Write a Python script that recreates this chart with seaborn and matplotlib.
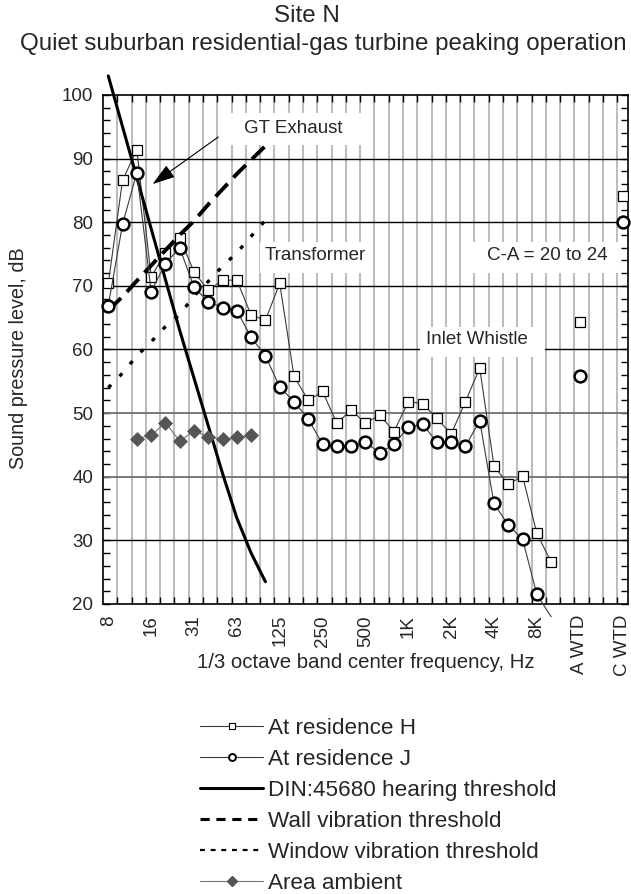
import numpy as np
import pandas as pd
import matplotlib
matplotlib.use("Agg")
import matplotlib.pyplot as plt
import seaborn as sns
from matplotlib.lines import Line2D
from matplotlib.patches import Rectangle
from matplotlib.ticker import FixedLocator, MultipleLocator

# ---------------- data ----------------
bands = ["8", "10", "12.5", "16", "20", "25", "31.5", "40", "50", "63", "80", "100",
         "125", "160", "200", "250", "315", "400", "500", "630", "800", "1K", "1.25K",
         "1.6K", "2K", "2.5K", "3.15K", "4K", "5K", "6.3K", "8K", "10K"]
categories = bands + ["", "A WTD", "", "", "C WTD"]
tick_labels = ["8", "16", "31", "63", "125", "250", "500", "1K", "2K", "4K", "8K",
               "A WTD", "C WTD"]

res_h = [70.4, 86.6, 91.4, 71.4, 75.2, 77.6, 72.2, 69.3, 70.9, 70.9, 65.4, 64.6,
         70.4, 55.8, 52.0, 53.4, 48.4, 50.5, 48.4, 49.7, 47.1, 51.8, 51.5, 49.2,
         46.7, 51.8, 57.1, 41.7, 38.8, 40.1, 31.1, 26.6]
res_j = [66.9, 79.7, 87.8, 69.1, 73.5, 76.0, 69.8, 67.5, 66.6, 66.1, 61.9, 59.0,
         54.1, 51.8, 49.1, 45.1, 44.8, 44.8, 45.4, 43.8, 45.1, 47.8, 48.3, 45.4,
         45.4, 44.8, 48.8, 35.8, 32.4, 30.2, 21.5, 18.0]
wtd_labels = ["A WTD", "C WTD"]
res_h_wtd = [64.3, 84.2]
res_j_wtd = [55.8, 80.1]

ambient_bands = ["12.5", "16", "20", "25", "31.5", "40", "50", "63", "80"]
ambient = [46.0, 46.5, 48.5, 45.6, 47.2, 46.3, 45.9, 46.2, 46.5]

thr_bands = ["8", "10", "12.5", "16", "20", "25", "31.5", "40", "50", "63", "80", "100"]
din_threshold = [103.0, 95.0, 87.0, 79.0, 71.0, 63.0, 55.5, 48.0, 40.5, 33.5, 28.0, 23.5]
wall_vib = [66.2, 68.3, 70.8, 73.2, 75.6, 78.0, 80.2, 82.8, 85.2, 87.6, 89.8, 92.0]
window_vib = [54.0, 56.3, 59.0, 61.2, 63.6, 65.5, 68.4, 70.7, 73.1, 75.2, 77.8, 80.3]

legend_labels = ["At residence H", "At residence J", "DIN:45680 hearing threshold",
                 "Wall vibration threshold", "Window vibration threshold", "Area ambient"]

pos = {c: i for i, c in enumerate(categories) if c}

# ---------------- styling ----------------
sns.set_theme(style="white")
FONT = ["Liberation Sans", "DejaVu Sans"]
plt.rcParams["font.family"] = FONT
FS = 13.5

W, H = 631, 894
fig = plt.figure(figsize=(W / 100, H / 100), dpi=100)
ax = fig.add_axes([103 / W, 1 - 604 / H, (628 - 103) / W, (604 - 95) / H])

def xs(cats):
    return [pos[c] for c in cats]

df_h = pd.DataFrame({"x": xs(bands), "y": res_h})
df_j = pd.DataFrame({"x": xs(bands), "y": res_j})
df_amb = pd.DataFrame({"x": xs(ambient_bands), "y": ambient})
df_thr = pd.DataFrame({"x": xs(thr_bands), "din": din_threshold,
                       "wall": wall_vib, "window": window_vib})

thin = "#3a3a3a"
# Residence H
sns.lineplot(data=df_h, x="x", y="y", ax=ax, color=thin, lw=0.8, marker="s",
             markersize=6.5, markerfacecolor="white", markeredgecolor="black",
             markeredgewidth=0.9, legend=False, errorbar=None, zorder=3)
# Residence J (line continues below axis at 10K)
sns.lineplot(data=df_j, x="x", y="y", ax=ax, color=thin, lw=0.8, marker="o",
             markersize=8.5, markerfacecolor="white", markeredgecolor="black",
             markeredgewidth=1.8, legend=False, errorbar=None, clip_on=False,
             markevery=[i for i, v in enumerate(res_j) if v >= 20], zorder=4)
# weighted levels
sns.lineplot(x=xs(wtd_labels), y=res_h_wtd, ax=ax, lw=0, marker="s", markersize=6.5,
             markerfacecolor="white", markeredgecolor="black", markeredgewidth=0.9,
             legend=False, errorbar=None, zorder=3)
sns.lineplot(x=xs(wtd_labels), y=res_j_wtd, ax=ax, lw=0, marker="o", markersize=8.5,
             markerfacecolor="white", markeredgecolor="black", markeredgewidth=1.8,
             legend=False, errorbar=None, zorder=4, clip_on=False)
# thresholds
sns.lineplot(data=df_thr, x="x", y="din", ax=ax, color="black", lw=2.2,
             legend=False, errorbar=None, clip_on=False, zorder=3)
sns.lineplot(data=df_thr, x="x", y="wall", ax=ax, color="black", lw=2.8,
             linestyle=(0, (4.5, 2.2)), legend=False, errorbar=None, zorder=3)
sns.lineplot(data=df_thr, x="x", y="window", ax=ax, color="black", lw=2.4,
             linestyle=(0, (1.2, 3.6)), legend=False, errorbar=None, zorder=3)
# ambient
sns.lineplot(data=df_amb, x="x", y="y", ax=ax, color="#777777", lw=0.8, marker="D",
             markersize=7, markerfacecolor="#555555", markeredgecolor="#555555",
             markeredgewidth=0.5, legend=False, errorbar=None, zorder=3)

# ---------------- axes ----------------
ax.set_xlim(-0.37, 36.38)
ax.set_ylim(20, 100)
ax.set_xlabel("")
ax.set_ylabel("")
ax.set_xticks(range(0, 37, 3))
ax.set_xticklabels(tick_labels, rotation=90, fontsize=FS)
grid_x = [k - 0.37 for k in range(1, 37)]
ax.xaxis.set_minor_locator(FixedLocator(grid_x))
ax.tick_params(axis="x", which="minor", direction="in", length=5, width=1,
               color="black", top=True, bottom=True)
ax.tick_params(axis="x", which="major", length=0, pad=8)
ax.set_axisbelow(True)
ax.grid(which="minor", axis="x", color="#bdbdbd", lw=1.5)
ax.grid(which="major", axis="x", visible=False)

ax.set_yticks(range(20, 101, 10))
ax.set_yticklabels([str(v) for v in range(20, 101, 10)], fontsize=FS)
ax.yaxis.set_minor_locator(MultipleLocator(2))
ax.tick_params(axis="y", which="both", direction="in", length=5, width=1,
               color="black", left=True, right=True, pad=7)
for v in range(30, 100, 10):
    ax.axhline(v, color="#707070" if v in (40, 50) else "black",
               lw=1.3 if v in (40, 50) else 1.0, zorder=0.6)
for s in ax.spines.values():
    s.set_color("black")
    s.set_linewidth(1.2)
    s.set_visible(True)

# white label boxes
for (x0, x1, y0, y1) in [(7.69, 18.53, 92.1, 97.2), (10.6, 18.5, 72.0, 76.9),
                         (25.3, 35.7, 72.0, 76.9), (21.8, 30.6, 58.8, 63.5)]:
    ax.add_patch(Rectangle((x0, y0), x1 - x0, y1 - y0, facecolor="white",
                           edgecolor="none", zorder=1))
ax.text(12.97, 94.8, "GT Exhaust", ha="center", va="center", fontsize=FS)
ax.text(14.5, 74.8, "Transformer", ha="center", va="center", fontsize=FS)
ax.text(30.7, 74.8, "C-A = 20 to 24", ha="center", va="center", fontsize=FS)
ax.text(25.8, 61.5, "Inlet Whistle", ha="center", va="center", fontsize=FS)
ax.annotate("", xy=(3.1, 86.0), xytext=(7.7, 93.4),
            arrowprops=dict(arrowstyle="-|>,head_length=1.4,head_width=0.45",
                            mutation_scale=10, lw=0.8, color="black",
                            shrinkA=0, shrinkB=0), zorder=5)

# ---------------- texts ----------------
fig.text(307 / W, 1 - 16 / H, "Site N", ha="center", va="center", fontsize=17.4)
fig.text(323 / W, 1 - 44 / H, "Quiet suburban residential-gas turbine peaking operation",
         ha="center", va="center", fontsize=17.4)
fig.text(366 / W, 1 - 663 / H, "1/3 octave band center frequency, Hz",
         ha="center", va="center", fontsize=14.7)
fig.text(19 / W, 1 - 358 / H, "Sound pressure level, dB", ha="center", va="center",
         rotation=90, fontsize=14.2)

# ---------------- legend ----------------
handles = [
    Line2D([], [], color=thin, lw=0.8, marker="s", markersize=4.5, mfc="white",
           mec="black", mew=0.8),
    Line2D([], [], color=thin, lw=0.8, marker="o", markersize=5, mfc="white",
           mec="black", mew=1.4),
    Line2D([], [], color="black", lw=2.2),
    Line2D([], [], color="black", lw=2.2, linestyle=(0, (3.0, 2.2))),
    Line2D([], [], color="black", lw=1.6, linestyle=(0, (2.2, 2.6))),
    Line2D([], [], color="#777777", lw=0.8, marker="D", markersize=5,
           mfc="#555555", mec="#555555"),
]
LFS = 16.2
fig.legend(handles, legend_labels, loc="upper left",
           bbox_to_anchor=(200 / W, 1 - 717.5 / H), frameon=False, fontsize=LFS,
           handlelength=63 / (LFS * 100 / 72), handletextpad=0.22, labelspacing=0.45,
           borderpad=0, borderaxespad=0)

fig.savefig("out.png", dpi=100)
